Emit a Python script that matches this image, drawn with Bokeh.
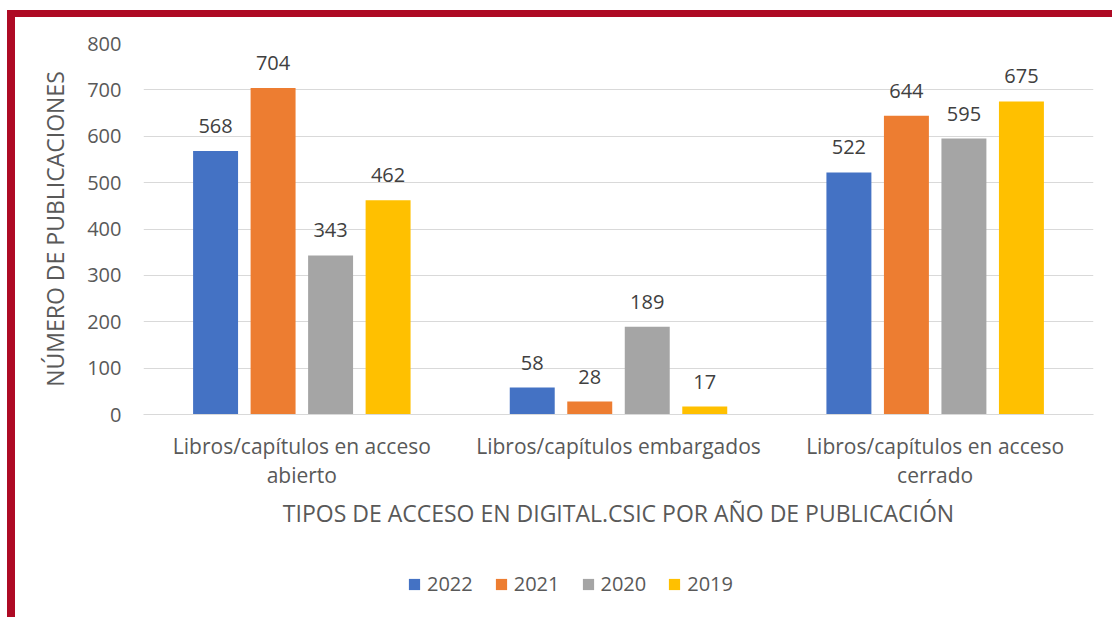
from bokeh.plotting import figure
from bokeh.layouts import column
from bokeh.models import (ColumnDataSource, Legend, LegendItem, FactorRange, Range1d,
                          LabelSet, CategoricalAxis)
from bokeh.core.properties import value
from bokeh.transform import dodge
from bokeh.embed import file_html
from bokeh.resources import INLINE

categories = ["Libros/capítulos en acceso abierto",
              "Libros/capítulos embargados",
              "Libros/capítulos en acceso cerrado"]
# the two lines of each wrapped category label (distinct strings needed per factor)
label_line1 = ["Libros/capítulos en acceso", "Libros/capítulos embargados",
               "Libros/capítulos en acceso\u200b"]
label_line2 = ["abierto", " ", "cerrado"]
years = ["2022", "2021", "2020", "2019"]
v2022 = [568, 58, 522]
v2021 = [704, 28, 644]
v2020 = [343, 189, 595]
v2019 = [462, 17, 675]
series = [v2022, v2021, v2020, v2019]
colors = ["#4472C4", "#ED7D31", "#A5A5A5", "#FFC000"]
y_ticks = [0, 100, 200, 300, 400, 500, 600, 700, 800]

FONT = "Open Sans"
TXT = "#595959"

p = figure(x_range=FactorRange(*categories), y_range=Range1d(0, 800),
           frame_width=950, frame_height=371, output_backend="svg", toolbar_location=None,
           x_axis_location=None,
           min_border_left=128, min_border_right=19, min_border_top=26,
           min_border_bottom=140)
p.extra_x_ranges = {"line1": FactorRange(*label_line1), "line2": FactorRange(*label_line2)}
p.outline_line_color = None
p.background_fill_color = "white"
p.border_fill_color = "white"

src = ColumnDataSource(dict(cat=categories, **{"y" + y: s for y, s in zip(years, series)}))

step = 0.1816
bw = 0.142
for i, (yr, col) in enumerate(zip(years, colors)):
    off = (i - 1.5) * step
    p.vbar(x=dodge("cat", off, range=p.x_range), top="y" + yr, width=bw,
           source=src, fill_color=col, line_color=None)
    lbl = LabelSet(x=dodge("cat", off, range=p.x_range), y="y" + yr, text="y" + yr,
                   source=src, text_align="center", text_baseline="alphabetic",
                   y_offset=18, text_font=value(FONT), text_font_size="20px",
                   text_color="#404040")
    p.add_layout(lbl)

ya = p.yaxis[0]
ya.ticker = y_ticks
ya.axis_line_color = None
ya.major_tick_line_color = None
ya.minor_tick_line_color = None
ya.major_tick_out = 0
ya.major_tick_in = 0
ya.major_label_text_font = FONT
ya.major_label_text_font_size = "20px"
ya.major_label_text_color = TXT
ya.major_label_standoff = 22
ya.axis_label = "NÚMERO DE PUBLICACIONES"
ya.axis_label_text_font = FONT
ya.axis_label_text_font_size = "23px"
ya.axis_label_text_font_style = "normal"
ya.axis_label_text_color = TXT
ya.axis_label_standoff = 13


def cat_axis(range_name, standoff):
    ax = CategoricalAxis(x_range_name=range_name)
    ax.major_tick_line_color = None
    ax.minor_tick_line_color = None
    ax.major_tick_out = 0
    ax.major_tick_in = 0
    ax.major_label_text_font = FONT
    ax.major_label_text_font_size = "21px"
    ax.major_label_text_color = TXT
    ax.major_label_standoff = standoff
    return ax


xa = cat_axis("line1", 17)
xa.axis_line_color = "#D9D9D9"
xa.axis_line_width = 1
p.add_layout(xa, "below")

xa2 = cat_axis("line2", -2)
xa2.axis_line_color = None
xa2.axis_label = "TIPOS DE ACCESO EN DIGITAL.CSIC POR AÑO DE PUBLICACIÓN"
xa2.axis_label_text_font = FONT
xa2.axis_label_text_font_size = "23px"
xa2.axis_label_text_font_style = "normal"
xa2.axis_label_text_color = TXT
xa2.axis_label_standoff = 5
p.add_layout(xa2, "below")

p.xgrid.grid_line_color = None
p.ygrid.grid_line_color = "#D9D9D9"
p.ygrid.grid_line_width = 1

# legend strip underneath (same series, drawn out of view so only the legend shows)
pl = figure(x_range=p.x_range, y_range=Range1d(5000, 6000),
            width=128 + 950 + 19, height=63, output_backend="svg", toolbar_location=None,
            x_axis_location=None, y_axis_location=None,
            min_border_left=0, min_border_right=0, min_border_top=0, min_border_bottom=0)
pl.outline_line_color = None
pl.grid.grid_line_color = None
pl.background_fill_color = "white"
pl.border_fill_color = "white"
items = []
for i, (yr, col) in enumerate(zip(years, colors)):
    off = (i - 1.5) * step
    r = pl.vbar(x=dodge("cat", off, range=p.x_range), top="y" + yr, width=bw,
                source=src, fill_color=col, line_color=None)
    items.append(LegendItem(label=yr, renderers=[r]))

legend = Legend(items=items, orientation="horizontal", location=(264, 20),
                label_text_font=FONT, label_text_font_size="20px",
                label_text_color=TXT, glyph_width=14, glyph_height=14,
                spacing=21, label_standoff=6, border_line_color=None,
                background_fill_alpha=0, margin=0, padding=0)
pl.add_layout(legend)

layout = column(p, pl, spacing=0,
                styles={"border-top": "7px solid #AE0A24", "border-left": "8px solid #AE0A24",
                        "margin-top": "10px", "margin-left": "7px"})

open("out.html", "w").write(file_html(layout, INLINE))
